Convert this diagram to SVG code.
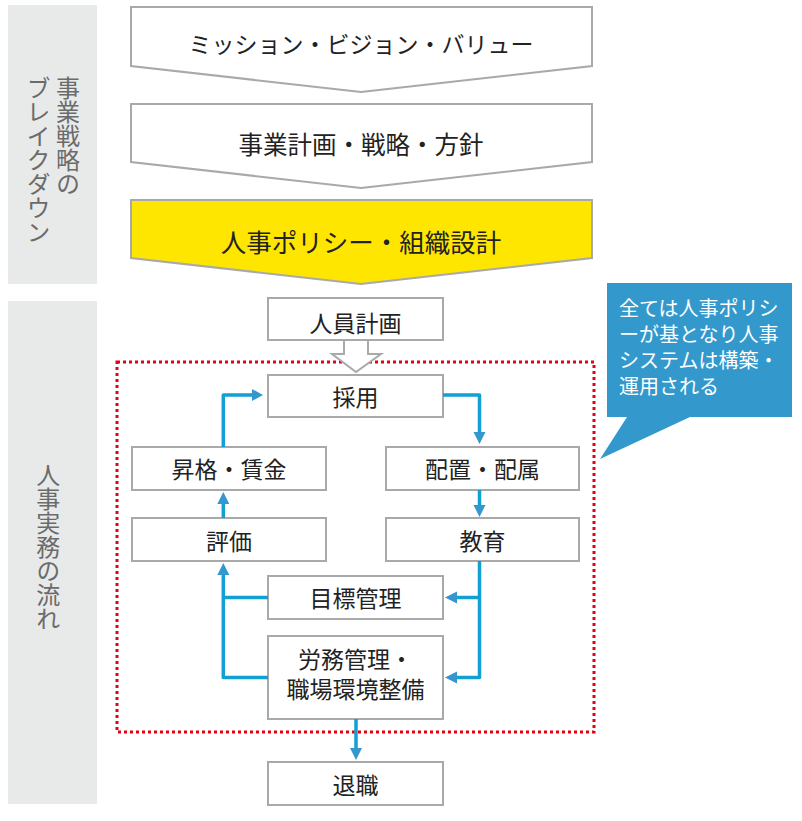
<svg xmlns="http://www.w3.org/2000/svg" width="802" height="821" viewBox="0 0 802 821">
<style>
text{font-family:"Noto Sans CJK JP","Noto Sans",sans-serif;}
.box{fill:#fff;stroke:#a9a9a9;stroke-width:2;}
.lbl{font-size:23px;fill:#222;text-anchor:middle;dominant-baseline:central;}
.side{font-size:24px;fill:#6b6b6b;writing-mode:vertical-rl;}
.panel{fill:#e8e9e9;}
.ln{fill:none;stroke:#12a0d3;stroke-width:3.5;stroke-linejoin:round;}
.hd{fill:#3597cf;}
.call{font-size:20px;fill:#fff;dominant-baseline:central;}
</style>
<rect width="802" height="821" fill="#fff"/>
<g id="panel-top">
<rect class="panel" x="8" y="5" width="89" height="279"/>
<text class="side" x="68" y="76">事業戦略の</text>
<text class="side" x="38.5" y="76">ブレイクダウン</text>
</g>
<g id="panel-bottom">
<rect class="panel" x="8" y="301" width="89" height="503"/>
<text class="side" x="48.3" y="463">人事実務の流れ</text>
</g>
<g id="mission">
<polygon class="box" points="131,7 592,7 592,66 361,92 131,66"/>
<text class="lbl" x="361" y="43" style="font-size:23px">ミッション・ビジョン・バリュー</text>
</g>
<g id="strategy">
<polygon class="box" points="131,104 592,104 592,162 361,188 131,162"/>
<text class="lbl" x="361" y="143" style="font-size:24.5px">事業計画・戦略・方針</text>
</g>
<g id="policy">
<polygon points="131,200 592,200 592,258 361,284 131,258" fill="#ffe600" stroke="#a9a9a9" stroke-width="2"/>
<text class="lbl" x="361" y="240" style="font-size:25.5px">人事ポリシー・組織設計</text>
</g>
<g id="plan">
<rect class="box" x="268" y="298" width="175" height="42"/>
<text class="lbl" x="355.5" y="322">人員計画</text>
</g>
<g id="scope">
<rect x="117" y="362" width="477" height="370" fill="none" stroke="#e60012" stroke-width="3" stroke-dasharray="3 3"/>
</g>
<g id="hollow-arrow">
<polygon points="344,340 368,340 368,354 381,354 356,372 332,354 344,354" fill="#fff" stroke="#a9a9a9" stroke-width="2" stroke-linejoin="miter"/>
</g>
<g id="recruit">
<rect class="box" x="268" y="375" width="175" height="42"/>
<text class="lbl" x="355.5" y="396">採用</text>
</g>
<g id="promotion">
<rect class="box" x="132" y="447" width="194" height="43"/>
<text class="lbl" x="229" y="468">昇格・賃金</text>
</g>
<g id="placement">
<rect class="box" x="386" y="447" width="193" height="43"/>
<text class="lbl" x="482.5" y="468">配置・配属</text>
</g>
<g id="evaluation">
<rect class="box" x="132" y="518" width="194" height="43"/>
<text class="lbl" x="229" y="540">評価</text>
</g>
<g id="education">
<rect class="box" x="386" y="518" width="193" height="43"/>
<text class="lbl" x="482.5" y="540">教育</text>
</g>
<g id="goal">
<rect class="box" x="268" y="576" width="175" height="43"/>
<text class="lbl" x="355.5" y="597">目標管理</text>
</g>
<g id="labor">
<rect class="box" x="268" y="636" width="175" height="83"/>
<text class="lbl" x="355.5" y="658">労務管理・</text>
<text class="lbl" x="355.5" y="688">職場環境整備</text>
</g>
<g id="retire">
<rect class="box" x="268" y="762" width="175" height="43"/>
<text class="lbl" x="355.5" y="784">退職</text>
</g>
<g id="connectors">
<path class="ln" d="M223.3,447 V395 H253"/>
<polygon class="hd" points="252,389 263,395 252,401"/>
<path class="ln" d="M443,395 H479.5 V433"/>
<polygon class="hd" points="473.5,432 485.5,432 479.5,444"/>
<path class="ln" d="M479.5,490 V506"/>
<polygon class="hd" points="473.5,505 485.5,505 479.5,517"/>
<path class="ln" d="M223.3,518 V503"/>
<polygon class="hd" points="217.3,504 229.3,504 223.3,492"/>
<path class="ln" d="M479.5,561 V677.5 H456"/>
<path class="ln" d="M479.5,597.5 H456"/>
<polygon class="hd" points="457,591.5 457,603.5 445,597.5"/>
<polygon class="hd" points="457,671.5 457,683.5 445,677.5"/>
<path class="ln" d="M268,677.5 H223.3 V574"/>
<path class="ln" d="M268,597.5 H223.3"/>
<polygon class="hd" points="217.3,575 229.3,575 223.3,563"/>
<path class="ln" d="M356,719 V749"/>
<polygon class="hd" points="350,748 362,748 356,760"/>
</g>
<g id="callout">
<path d="M607,283 H792 V417 H690 L600,459 L627,417 H607 Z" fill="#3399cc"/>
<text class="call" x="619" y="307">全ては人事ポリシ</text>
<text class="call" x="619" y="333">ーが基となり人事</text>
<text class="call" x="619" y="359">システムは構築・</text>
<text class="call" x="619" y="385">運用される</text>
</g>
</svg>
